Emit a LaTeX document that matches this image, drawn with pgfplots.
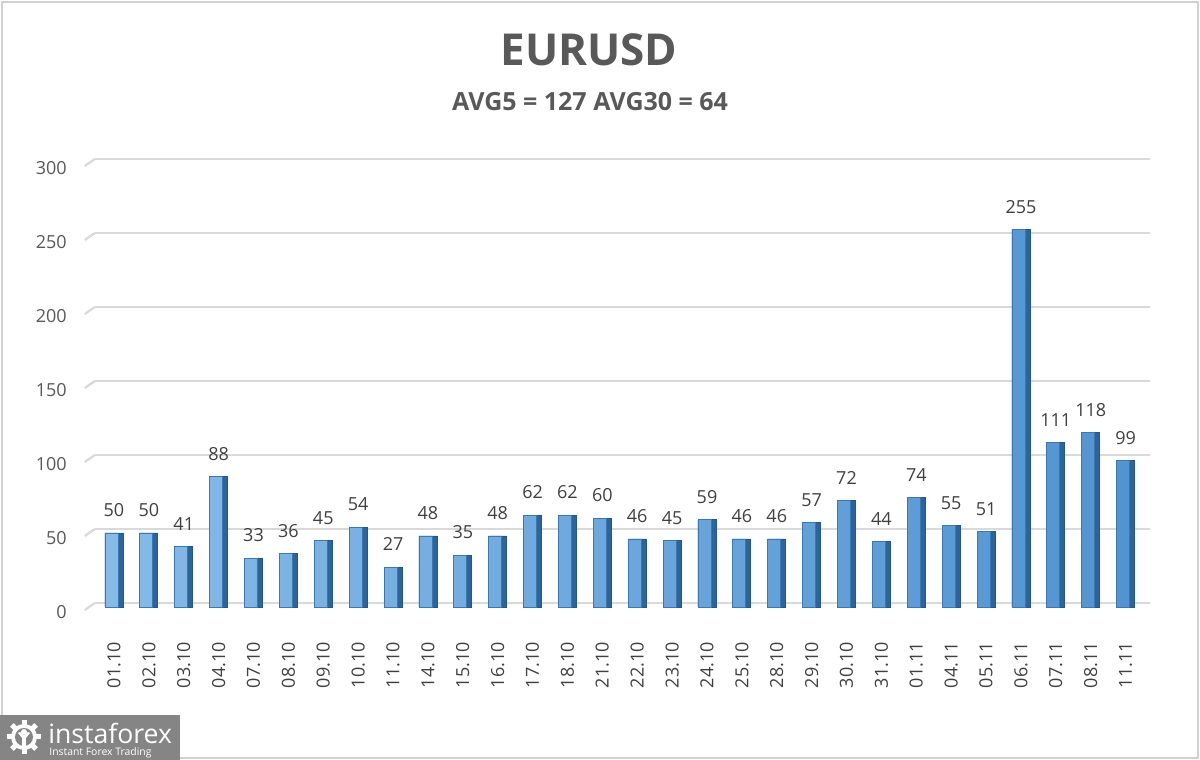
\documentclass[border=0pt]{standalone}
\usepackage{pgfplots}
\usepackage{pgfplotstable}
\pgfplotsset{compat=1.18}
\usepackage{fontspec}
\setmainfont{Open Sans}
\definecolor{titlegray}{HTML}{595959}
\definecolor{labgray}{HTML}{404040}
\definecolor{tickgray}{HTML}{595959}
\definecolor{gridgray}{HTML}{D9D9D9}
\definecolor{bordergray}{HTML}{D0D0D0}
\definecolor{sidecol}{HTML}{2C659C}
\definecolor{frontL}{HTML}{86BAE7}
\definecolor{frontR}{HTML}{5294D1}
\definecolor{edgecol}{HTML}{3A78B4}
\definecolor{wmgray}{HTML}{858585}

\pgfplotstableread{
i label v
0  01.10 50
1  02.10 50
2  03.10 41
3  04.10 88
4  07.10 33
5  08.10 36
6  09.10 45
7  10.10 54
8  11.10 27
9  14.10 48
10 15.10 35
11 16.10 48
12 17.10 62
13 18.10 62
14 21.10 60
15 22.10 46
16 23.10 45
17 24.10 59
18 25.10 46
19 28.10 46
20 29.10 57
21 30.10 72
22 31.10 44
23 01.11 74
24 04.11 55
25 05.11 51
26 06.11 255
27 07.11 111
28 08.11 118
29 11.11 99
}\data

\begin{document}
\begin{tikzpicture}
\begin{scope}[x=0.5pt,y=0.5pt]
\path[use as bounding box] (0,0) rectangle (1200,760);
\fill[white] (0,0) rectangle (1200,760);
\draw[bordergray, line width=0.8pt] (2,2) rectangle (1198,758);
\node[font=\bfseries\fontsize{22}{26}\selectfont, text=titlegray, inner sep=0pt] at (589,710) {EURUSD};
\node[font=\bfseries\fontsize{12.5}{15}\selectfont, text=titlegray, inner sep=0pt] at (590,658) {AVG5 = 127 AVG30 = 64};
% watermark
\fill[wmgray] (0,0) rectangle (180,45);
\node[anchor=base west, inner sep=0pt, text=white, font=\fontsize{13.3}{15}\selectfont] at (48,16) {instaforex};
\node[anchor=base west, inner sep=0pt, text=white, font=\fontsize{5.2}{6}\selectfont] at (49,4) {Instant Forex Trading};
\begin{scope}[shift={(24,23)}]
\foreach \a in {0,45,...,315}{\fill[white,rotate=\a] (-2.5,12) rectangle (2.5,17);}
\fill[white] (0,0) circle (13);
\fill[wmgray] (0,0) circle (9);
\fill[white] (0,5) circle (3);
\fill[white] (-2,-9) rectangle (2,2);
\fill[white] (-6,4) -- (-2,-1) -- (2,-1) -- (6,4) -- (4,5) -- (0,1) -- (-4,5) -- cycle;
\end{scope}
\end{scope}
\begin{axis}[
  at={(47.4pt,76.5pt)}, anchor=south west,
  scale only axis, width=527.6pt, height=222pt,
  xmin=-0.55, xmax=29.7, ymin=0, ymax=300,
  ybar,
  axis line style={draw=none},
  major tick length=0pt,
  ytick={0,50,...,300},
  ymajorgrids, grid style={gridgray, line width=1.1pt, yshift=2pt},
  xtick={0,...,29},
  xticklabels from table={\data}{label},
  xticklabel style={rotate=90, anchor=east, xshift=-14pt, font=\fontsize{9}{10}\selectfont, text=labgray},
  yticklabel style={xshift=-10.5pt, yshift=-2.5pt, font=\fontsize{9}{10}\selectfont, text=tickgray},
  /pgf/number format/assume math mode=true,
  clip=false,
]
\addplot[bar width=9pt, bar shift=0pt, fill=sidecol, draw=sidecol!85!black, line width=0.4pt,
  nodes near coords,
  nodes near coords style={font=\fontsize{9}{10}\selectfont, text=labgray, anchor=south, yshift=4.5pt}]
  table[x=i,y=v] {\data};
\addplot[bar width=6.5pt, bar shift=-1.25pt, left color=frontL, right color=frontR, draw=edgecol, line width=0.4pt]
  table[x=i,y=v] {\data};
\pgfplotsinvokeforeach{0,50,...,300}{
  \draw[gridgray, line width=1.1pt] ([yshift=2pt]axis cs:-0.55,#1) -- ++(-5pt,-3.5pt);
}
\end{axis}
\end{tikzpicture}
\end{document}
